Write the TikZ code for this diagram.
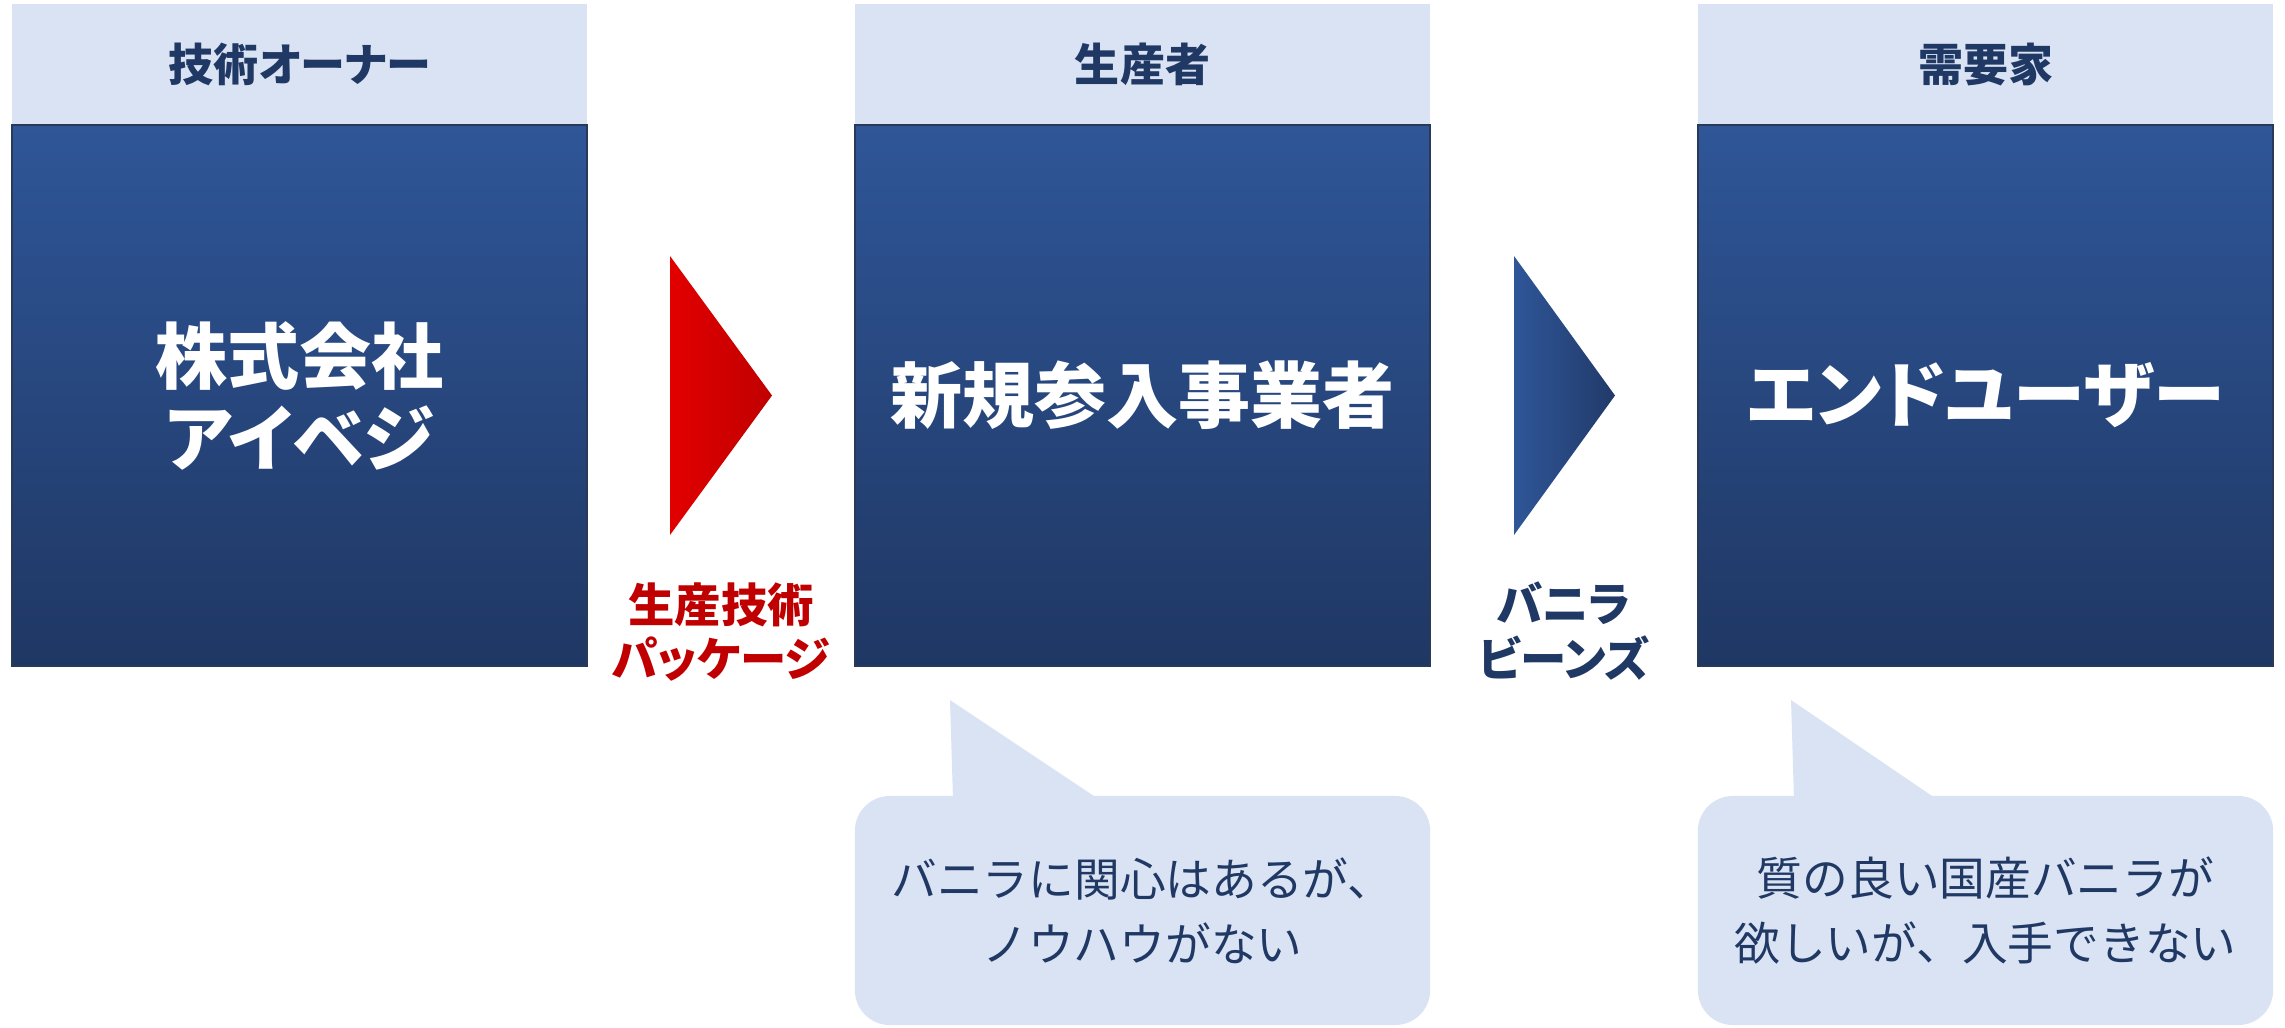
\documentclass[tikz,border=0pt]{standalone}
\usepackage{fontspec}
\setmainfont{Noto Sans CJK JP}[RawFeature={+palt}]
\newfontfamily\calloutfont{Noto Sans CJK JP}
\definecolor{hdrfill}{RGB}{218,227,243}
\definecolor{navy}{RGB}{32,56,100}
\definecolor{boxtop}{RGB}{47,86,152}
\definecolor{boxbot}{RGB}{31,55,99}
\definecolor{boxedge}{RGB}{40,58,88}
\definecolor{redA}{RGB}{226,0,0}
\definecolor{redB}{RGB}{192,0,0}
\definecolor{redtext}{RGB}{192,0,0}
\definecolor{bluA}{RGB}{47,86,152}
\definecolor{bluB}{RGB}{33,58,105}
\begin{document}
\begin{tikzpicture}[x=0.01cm,y=-0.01cm,
  hdr/.style={fill=hdrfill, minimum width=5.75cm, minimum height=1.21cm, inner sep=0pt,
    text=navy, font=\fontsize{12.8}{15}\selectfont\bfseries},
  mainbox/.style={top color=boxtop, bottom color=boxbot, draw=boxedge, line width=0.5pt,
    minimum width=5.75cm, minimum height=5.41cm, inner sep=0pt, text=white, align=center,
    font=\fontsize{20.5}{23.3}\selectfont\bfseries},
  flowlabel/.style={align=center, inner sep=0pt, font=\fontsize{13.2}{15.6}\selectfont\bfseries},
  callout/.style={fill=hdrfill, rounded corners=0.35cm, minimum width=5.75cm, minimum height=2.29cm,
    inner sep=0pt, align=center, text=navy, font=\calloutfont\fontsize{13}{18.5}\selectfont},
  tail/.style={fill=hdrfill}
]
\useasboundingbox (0,0) rectangle (2285,1027);

% headers
\node[hdr] (h1) at (299.5,64.5) {技術オーナー};
\node[hdr] (h2) at (1142.5,64.5) {生産者};
\node[hdr] (h3) at (1985.5,64.5) {需要家};

% main boxes
\node[mainbox] (m1) at (299.5,395.5) {株式会社\\アイベジ};
\node[mainbox] (m2) at (1142.5,395.5) {新規参入事業者};
\node[mainbox] (m3) at (1985.5,395.5) {エンドユーザー};

% flow triangles
\coordinate (ra) at (670,256);
\coordinate (rb) at (772,395.5);
\coordinate (rc) at (670,535);
\shade[left color=redA, right color=redB] (ra) -- (rb) -- (rc) -- cycle;
\coordinate (ba) at (1514,256);
\coordinate (bb) at (1615,395.5);
\coordinate (bc) at (1514,535);
\shade[left color=bluA, right color=bluB] (ba) -- (bb) -- (bc) -- cycle;

% flow labels
\node[flowlabel, text=redtext] (l1) at (721,632) {生産技術\\パッケージ};
\node[flowlabel, text=navy] (l2) at (1564,631) {バニラ\\ビーンズ};

% callouts
\node[callout] (c1) at (1142.5,910.5) {バニラに関心はあるが、\\ノウハウがない};
\coordinate (t1a) at (950,700);
\coordinate (t1b) at (953,800);
\coordinate (t1c) at (1100,800);
\fill[tail] (t1a) -- (t1b) -- (t1c) -- cycle;

\node[callout] (c2) at (1985.5,910.5) {質の良い国産バニラが\\欲しいが、入手できない};
\coordinate (t2a) at (1791,700);
\coordinate (t2b) at (1794,800);
\coordinate (t2c) at (1938,800);
\fill[tail] (t2a) -- (t2b) -- (t2c) -- cycle;
\end{tikzpicture}
\end{document}
